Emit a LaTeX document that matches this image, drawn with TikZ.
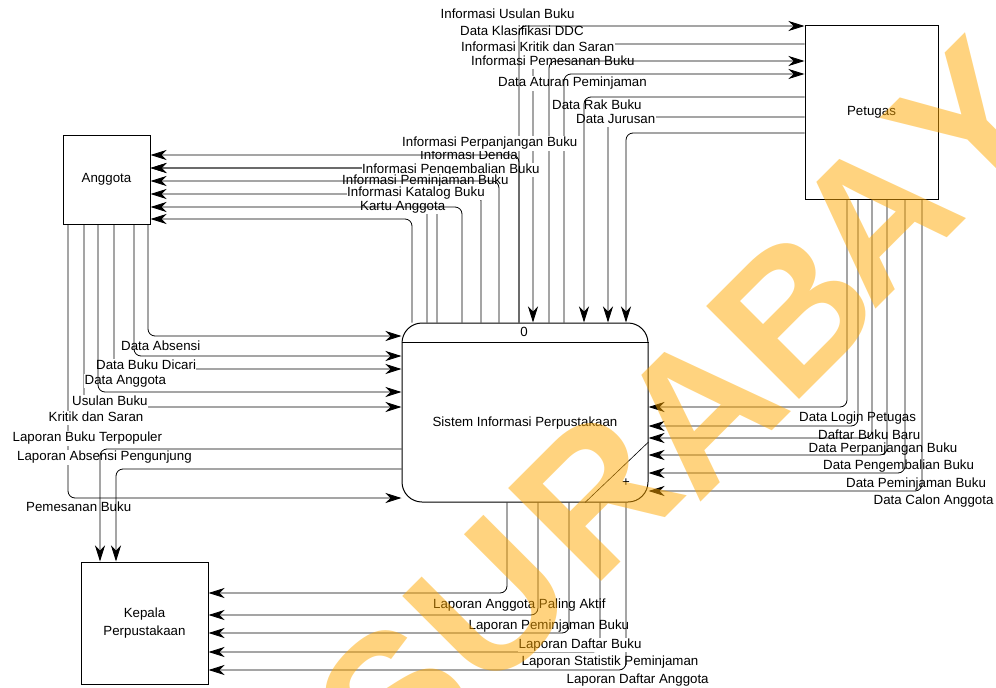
\documentclass[tikz,border=0pt]{standalone}
\usepackage{fontspec}
\setmainfont{Liberation Sans}
\usetikzlibrary{arrows.meta}

\definecolor{wmark}{RGB}{255,168,0}

\begin{document}
\begin{tikzpicture}[x=1pt, y=-1pt,
    font=\fontsize{13.3}{18}\selectfont,
    entity/.style={draw, line width=1pt, inner sep=0pt},
    flow/.style={line width=0.8pt, rounded corners=7pt, -{Stealth[length=16pt, width=10pt, inset=5pt]}},
    lbl/.style={fill=white, inner xsep=0.5pt, inner ysep=1.2pt, anchor=west, text height=9.4pt, text depth=2.7pt}
]

\useasboundingbox (0,0) rectangle (996,688);

% Entities
\node[entity, minimum width=133pt, minimum height=174pt] (petugas) at (871.5,112) {Petugas};
\node[entity, minimum width=87pt, minimum height=89pt] (anggota) at (106.5,179.5) {Anggota};
\node[entity, minimum width=127pt, minimum height=122pt, align=center] (kepala) at (144.5,623) {Kepala\\Perpustakaan};

% Process
\node[draw, line width=1pt, rounded corners=20pt, minimum width=246pt, minimum height=179pt] (proc) at (525,412.5) {};
\draw[line width=1pt] (proc.west |- 0,342) -- (proc.east |- 0,342);
\node (pnum) at (524,332) {0};
\node (pname) at (525,423) {Sistem Informasi Perpustakaan};
\draw[line width=0.6pt] (proc.east |- 0,442) -- (proc.south -| 585,0);
\node (pplus) at (626,483) {+};

% Flows partly under their labels
\draw[flow] (petugas.west |- 0,44) -| (proc.north -| 533,0);
\draw[flow] (petugas.west |- 0,117) -| (proc.north -| 608,0);
\draw[flow] (proc.north -| 427,0) |- (anggota.east |- 0,168);
\draw[flow] (proc.north -| 437,0) |- (anggota.east |- 0,168);
\draw[flow] (proc.north -| 481,0) |- (anggota.east |- 0,194);
\draw[flow] (anggota.south -| 114,0) |- (proc.west |- 0,369);
\draw[flow] (anggota.south -| 84,0) |- (proc.west |- 0,407);
\draw[flow] (anggota.south -| 68,0) |- (proc.west |- 0,498);

% Labels top
\node[lbl] (lInfoUsulan) at (440,15) {Informasi Usulan Buku};
\node[lbl] (lKlasifikasi) at (459.5,32) {Data Klasifikasi DDC};
\node[lbl] (lInfoKritik) at (460.5,48.5) {Informasi Kritik dan Saran};
\node[lbl] (lInfoPesan) at (470.5,62) {Informasi Pemesanan Buku};
\node[lbl] (lAturan) at (497.5,83.5) {Data Aturan Peminjaman};
\node[lbl] (lRak) at (551.5,106.5) {Data Rak Buku};
\node[lbl] (lJurusan) at (575.5,120) {Data Jurusan};

% Labels Anggota
\node[lbl] (lInfoDenda) at (419.5,156) {Informasi Denda};
\node[lbl] (lInfoKembali) at (361.5,170) {Informasi Pengembalian Buku};
\node[lbl] (lInfoPinjam) at (341.5,181.5) {Informasi Peminjaman Buku};
\node[lbl] (lInfoKatalog) at (346.5,193) {Informasi Katalog Buku};
\node[lbl] (lKartu) at (359.5,207) {Kartu Anggota};

% Labels left
\node[lbl] (lAbsensi) at (120.5,347.5) {Data Absensi};
\node[lbl] (lDicari) at (95.5,366) {Data Buku Dicari};
\node[lbl] (lDataAnggota) at (84,381) {Data Anggota};
\node[lbl] (lUsulan) at (71.5,402) {Usulan Buku};
\node[lbl] (lKritik) at (48,418) {Kritik dan Saran};
\node[lbl] (lTerpopuler) at (12,438.5) {Laporan Buku Terpopuler};
\node[lbl] (lPengunjung) at (16.5,457.5) {Laporan Absensi Pengunjung};
\node[lbl] (lPemesanan) at (25.5,508.5) {Pemesanan Buku};

% Labels right
\node[lbl] (lLogin) at (798.5,418) {Data Login Petugas};
\node[lbl] (lBukuBaru) at (817.5,436) {Daftar Buku Baru};
\node[lbl] (lPerpanjang) at (808,449.5) {Data Perpanjangan Buku};
\node[lbl] (lKembali) at (822.5,466) {Data Pengembalian Buku};
\node[lbl] (lPinjam) at (845.5,484) {Data Peminjaman Buku};
\node[lbl] (lCalon) at (873,501.5) {Data Calon Anggota};

% Labels bottom
\node[lbl] (lAktif) at (432.5,605) {Laporan Anggota Paling Aktif};
\node[lbl] (lLapPinjam) at (468,626) {Laporan Peminjaman Buku};
\node[lbl] (lStatistik) at (521,662.5) {Laporan Statistik Peminjaman};
\node[lbl] (lDaftarAnggota) at (566,680) {Laporan Daftar Anggota};

% Process <-> Petugas
\draw[flow] (proc.north -| 519,0) |- (petugas.west |- 0,26);
\draw[flow] (proc.north -| 549,0) |- (petugas.west |- 0,61);
\draw[flow] (proc.north -| 564,0) |- (petugas.west |- 0,74);
\draw[flow] (petugas.west |- 0,97) -| (proc.north -| 584,0);
\draw[flow] (petugas.west |- 0,133) -| (proc.north -| 626,0);

% Process -> Anggota
\draw[flow] (proc.north -| 519,0) |- (anggota.east |- 0,155);
\draw[flow] (proc.north -| 499,0) |- (anggota.east |- 0,181);
\draw[flow] (proc.north -| 462,0) |- (anggota.east |- 0,207);
\draw[flow] (proc.north -| 412,0) |- (anggota.east |- 0,219);

% Anggota -> Process
\draw[flow] (anggota.south -| 148,0) |- (proc.west |- 0,336);
\draw[flow] (anggota.south -| 134,0) |- (proc.west |- 0,356);
\draw[flow] (anggota.south -| 98,0) |- (proc.west |- 0,392);

% Process -> Kepala
\draw[flow] (proc.west |- 0,449) -| (kepala.north -| 100,0);
\draw[flow] (proc.west |- 0,469) -| (kepala.north -| 116,0);
\draw[flow] (proc.south -| 507,0) |- (kepala.east |- 0,593);
\draw[flow] (proc.south -| 538,0) |- (kepala.east |- 0,615);
\draw[flow] (proc.south -| 569,0) |- (kepala.east |- 0,633);
\draw[flow] (proc.south -| 600,0) |- (kepala.east |- 0,652);
\draw[flow] (proc.south -| 626,0) |- (kepala.east |- 0,670);

% Petugas -> Process
\draw[flow] (petugas.south -| 847,0) |- (proc.east |- 0,407);
\draw[flow] (petugas.south -| 858,0) |- (proc.east |- 0,426);
\draw[flow] (petugas.south -| 872,0) |- (proc.east |- 0,438);
\draw[flow] (petugas.south -| 887,0) |- (proc.east |- 0,455);
\draw[flow] (petugas.south -| 905,0) |- (proc.east |- 0,473);
\draw[flow] (petugas.south -| 922,0) |- (proc.east |- 0,491);

% Labels on top
\node[lbl] (lInfoPerpanjang) at (401.5,143.5) {Informasi Perpanjangan Buku};
\node[lbl] (lDaftarBuku) at (518,645) {Laporan Daftar Buku};

% Watermark
\foreach \ch/\px/\py [count=\i] in {S/395/700, U/490/603, R/595/495, A/700/410, B/793/313, A/875/217, Y/969/122, A/1062/28}
  \node[text=wmark, text opacity=0.5, rotate=45, inner sep=0pt, font=\fontsize{191}{191}\selectfont\bfseries] (wm\i) at (\px,\py) {\ch};

\end{tikzpicture}
\end{document}
